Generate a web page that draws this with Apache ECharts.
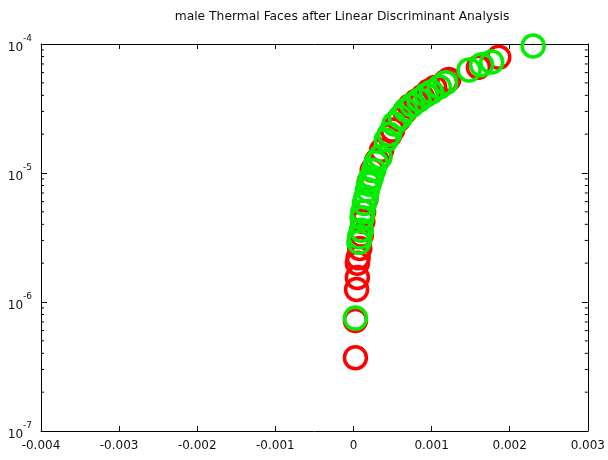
<!DOCTYPE html>
<html>
<head>
<meta charset="utf-8">
<script src="https://cdn.jsdelivr.net/npm/echarts@6/dist/echarts.min.js"></script>
<style>html,body{margin:0;padding:0;background:#fff}#c{width:608px;height:460px}</style>
</head>
<body>
<div id="c"></div>
<script>
const chartTitle = 'male Thermal Faces after Linear Discriminant Analysis';
const xTicks = [-0.004, 0.003, 0.001];           // min, max, interval
const yDecades = [1e-7, 1e-4];                   // min, max
const yMinorTicks = [2e-7,3e-7,4e-7,5e-7,6e-7,7e-7,8e-7,9e-7,
                     2e-6,3e-6,4e-6,5e-6,6e-6,7e-6,8e-6,9e-6,
                     2e-5,3e-5,4e-5,5e-5,6e-5,7e-5,8e-5,9e-5];

const redPoints = [
  [0.000025, 3.7e-7], [0.000025, 7.2e-7], [0.00004, 1.25e-6], [0.00005, 1.55e-6],
  [0.00005, 2.0e-6], [0.00006, 2.2e-6], [0.00008, 2.6e-6], [0.0001, 3.3e-6],
  [0.00012, 4.2e-6], [0.00013, 5.0e-6], [0.00016, 6.3e-6], [0.0002, 8.5e-6],
  [0.00024, 1.05e-5], [0.0003, 1.25e-5], [0.00036, 1.5e-5], [0.00046, 1.95e-5],
  [0.0005, 2.15e-5], [0.00058, 2.6e-5], [0.00066, 3.0e-5], [0.00072, 3.3e-5],
  [0.0008, 3.6e-5], [0.00088, 3.9e-5], [0.00096, 4.3e-5], [0.00104, 4.6e-5],
  [0.00118, 5.1e-5], [0.00122, 5.3e-5], [0.0016, 6.6e-5], [0.00186, 7.9e-5]
];
const greenPoints = [
  [0.000025, 7.5e-7], [0.00007, 2.9e-6], [0.00008, 3.2e-6], [0.0001, 3.6e-6],
  [0.00011, 4.5e-6], [0.00012, 5.0e-6], [0.00014, 5.8e-6], [0.00016, 6.5e-6],
  [0.00018, 7.4e-6], [0.0002, 8.2e-6], [0.00021, 8.8e-6], [0.00023, 9.3e-6],
  [0.00026, 1.05e-5], [0.00029, 1.2e-5], [0.00034, 1.33e-5], [0.00042, 1.8e-5],
  [0.00046, 2.0e-5], [0.00052, 2.4e-5], [0.0006, 2.7e-5], [0.00067, 3.08e-5],
  [0.00075, 3.37e-5], [0.00084, 3.68e-5], [0.00093, 4.03e-5], [0.001, 4.25e-5],
  [0.0011, 4.64e-5], [0.00118, 5.0e-5], [0.00148, 6.3e-5], [0.00164, 6.9e-5],
  [0.00177, 7.25e-5], [0.0023, 9.65e-5]
];

const FONT = 'DejaVu Sans';
const chart = echarts.init(document.getElementById('c'), null, {renderer: 'canvas'});

function circleSeries(name, data, color) {
  return {
    name: name, type: 'scatter', data: data, symbol: 'circle', symbolSize: 22,
    itemStyle: {color: 'rgba(0,0,0,0)', borderColor: color, borderWidth: 3.5, opacity: 1},
    silent: true, animation: false
  };
}

const axisCommonX = {
  type: 'value', min: xTicks[0], max: xTicks[1], interval: xTicks[2],
  axisLine: {show: true, onZero: false, lineStyle: {color: '#000', width: 1}},
  axisTick: {show: true, inside: true, length: 5, lineStyle: {color: '#000'}},
  splitLine: {show: false}
};
const axisCommonY = {
  type: 'log', logBase: 10, min: yDecades[0], max: yDecades[1], interval: 1,
  axisLine: {show: true, onZero: false, lineStyle: {color: '#000', width: 1}},
  axisTick: {show: true, inside: true, length: 6, lineStyle: {color: '#000'}},
  splitLine: {show: false}
};

chart.setOption({
  animation: false,
  backgroundColor: '#fff',
  title: {
    text: chartTitle, left: 337, top: 6, textAlign: 'center',
    textStyle: {fontFamily: FONT, fontSize: 12.3, fontWeight: 'normal', color: '#111'}
  },
  grid: {left: 41, right: 18, top: 44, bottom: 29},
  xAxis: [
    Object.assign({}, axisCommonX, {
      position: 'bottom',
      axisLabel: {show: true, margin: 9, fontFamily: FONT, fontSize: 12, color: '#111'}
    }),
    Object.assign({}, axisCommonX, {position: 'top', axisLabel: {show: false}})
  ],
  yAxis: [
    Object.assign({}, axisCommonY, {
      position: 'left',
      axisLabel: {
        show: true, margin: 9,
        formatter: function (v) {
          const e = Math.round(Math.log10(v));
          return '{b|10}{s|' + e + '}';
        },
        rich: {
          b: {fontFamily: FONT, fontSize: 12, color: '#111', lineHeight: 20, verticalAlign: 'bottom'},
          s: {fontFamily: FONT, fontSize: 9, color: '#111', lineHeight: 20, verticalAlign: 'top'}
        }
      }
    }),
    Object.assign({}, axisCommonY, {position: 'right', axisLabel: {show: false}})
  ],
  series: [
    {
      type: 'custom', silent: true, animation: false, clip: false,
      xAxisIndex: 0, yAxisIndex: 0,
      data: yMinorTicks.map(v => [xTicks[0], v]),
      renderItem: function (params, api) {
        const v = api.value(1);
        const l = api.coord([xTicks[0], v]);
        const r = api.coord([xTicks[1], v]);
        return {
          type: 'group',
          children: [
            {type: 'line', shape: {x1: l[0], y1: l[1], x2: l[0] + 3, y2: l[1]}, style: {stroke: '#000', lineWidth: 1}},
            {type: 'line', shape: {x1: r[0], y1: r[1], x2: r[0] - 3, y2: r[1]}, style: {stroke: '#000', lineWidth: 1}}
          ]
        };
      }
    },
    circleSeries('red', redPoints, '#ff0000'),
    circleSeries('green', greenPoints, '#00ee00')
  ]
});
</script>
</body>
</html>
